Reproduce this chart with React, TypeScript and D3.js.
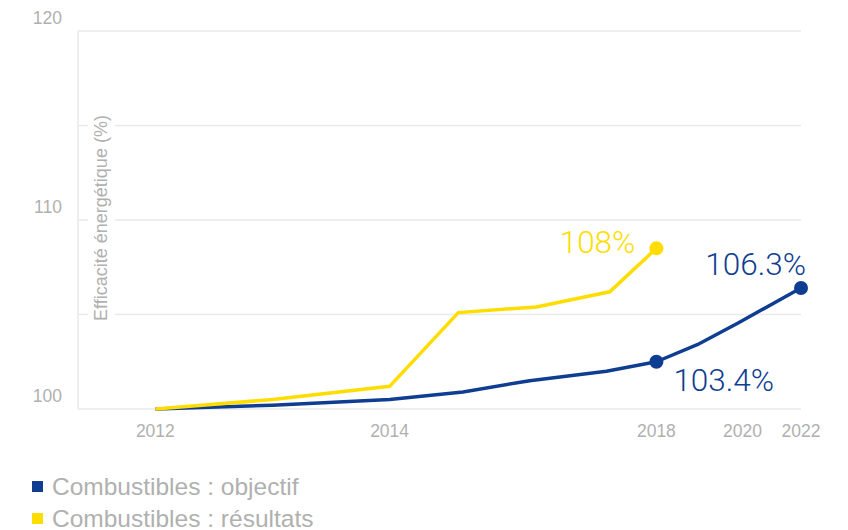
import React from "react";
import * as d3 from "d3";

const yearTicks = [2012, 2014, 2018, 2020, 2022];
const yTicksLabelled = [100, 110, 120];
const yGrid = [100, 105, 110, 115, 120];

const resultYears = [2012, 2013, 2014, 2015.03, 2016.2, 2017.3, 2018];
const resultValues = [100, 100.5, 101.2, 105.1, 105.4, 106.2, 108.5];

const targetYears = [2012, 2013, 2014, 2015.1, 2016.1, 2017.25, 2018, 2018.95, 2019.9, 2022];
const targetValues = [100, 100.2, 100.5, 100.9, 101.5, 102.0, 102.5, 103.4, 104.55, 106.4];

const seriesNames = ["Combustibles : objectif", "Combustibles : résultats"];
const yTitle = "Efficacité énergétique (%)";

const BLUE = "#0f3d91";
const YELLOW = "#ffdd00";
const GREY = "#b0b0b0";
const GRID = "#e9e9e9";

export default function App() {
  const W = 848, H = 530;
  const left = 78, right = 801, top = 31, bottom = 409;
  const pw = right - left;
  const x = d3
    .scaleLinear()
    .domain(yearTicks)
    .range([0.107, 0.431, 0.8, 0.919, 1].map((f) => left + f * pw));
  const y = d3.scaleLinear().domain([100, 120]).range([bottom, top]);

  const line = d3
    .line<[number, number]>()
    .x((d) => x(d[0]))
    .y((d) => y(d[1]));
  const resPts: [number, number][] = resultYears.map((yr, i) => [yr, resultValues[i]]);
  const tgtPts: [number, number][] = targetYears.map((yr, i) => [yr, targetValues[i]]);
  const resPath = line.curve(d3.curveLinear)(resPts) || "";
  const tgtPath = line.curve(d3.curveLinear)(tgtPts) || "";

  const resEnd = resPts[resPts.length - 1];
  const tgt2018 = tgtPts[6];
  const tgtEnd = tgtPts[tgtPts.length - 1];

  const numFont = "'Helvetica Neue', Roboto, 'Liberation Sans', Arial, sans-serif";
  const font = "'Helvetica Neue', 'Liberation Sans', Arial, sans-serif";
  const titleCy = 218;

  return (
    <svg
      width={W}
      height={H}
      style={{ position: "absolute", left: 0, top: 0, background: "#fff" }}
      fontFamily={font}
    >
      {yGrid.map((v) => (
        <line key={v} x1={left} x2={right} y1={y(v)} y2={y(v)} stroke={GRID} strokeWidth={1.5} />
      ))}
      <line x1={left} x2={left} y1={top} y2={bottom} stroke={GRID} strokeWidth={1.5} />
      {yTicksLabelled.map((v) => (
        <text key={v} x={62} y={y(v) - 7} textAnchor="end" fontSize={17.5} fill={GREY}>
          {v}
        </text>
      ))}
      <rect x={88} y={titleCy - 108} width={27} height={216} fill="#fff" />
      <text
        transform={`translate(107,${titleCy}) rotate(-90)`}
        textAnchor="middle"
        fontSize={18}
        fill={GREY}
      >
        {yTitle}
      </text>
      {yearTicks.map((t) => (
        <text key={t} x={x(t)} y={437} textAnchor="middle" fontSize={17.5} fill={GREY}>
          {t}
        </text>
      ))}
      <path d={tgtPath} fill="none" stroke={BLUE} strokeWidth={3.5} strokeLinejoin="round" />
      <path d={resPath} fill="none" stroke={YELLOW} strokeWidth={3.5} strokeLinejoin="miter" />
      <circle cx={x(resEnd[0])} cy={y(resEnd[1])} r={7} fill={YELLOW} />
      <circle cx={x(tgt2018[0])} cy={y(tgt2018[1])} r={7} fill={BLUE} />
      <circle cx={x(tgtEnd[0])} cy={y(tgtEnd[1])} r={7} fill={BLUE} />
      <text
        x={x(resEnd[0]) - 21}
        y={y(resEnd[1]) + 5}
        textAnchor="end"
        fontSize={31.5}
        fontWeight={300}
        fontFamily={numFont}
        fill={YELLOW}
      >
        108%
      </text>
      <text
        x={x(tgtEnd[0]) + 5}
        y={y(tgtEnd[1]) - 13}
        textAnchor="end"
        fontSize={31.5}
        fontWeight={300}
        fontFamily={numFont}
        fill={BLUE}
      >
        106.3%
      </text>
      <text
        x={x(tgt2018[0]) + 17}
        y={y(tgt2018[1]) + 29}
        textAnchor="start"
        fontSize={31.5}
        fontWeight={300}
        fontFamily={numFont}
        fill={BLUE}
      >
        103.4%
      </text>
      {seriesNames.map((n, i) => (
        <g key={n} transform={`translate(32,${481 + i * 32})`}>
          <rect width={11} height={11} fill={i === 0 ? BLUE : YELLOW} />
          <text x={20} y={14} fontSize={24.5} fill={GREY}>
            {n}
          </text>
        </g>
      ))}
    </svg>
  );
}
